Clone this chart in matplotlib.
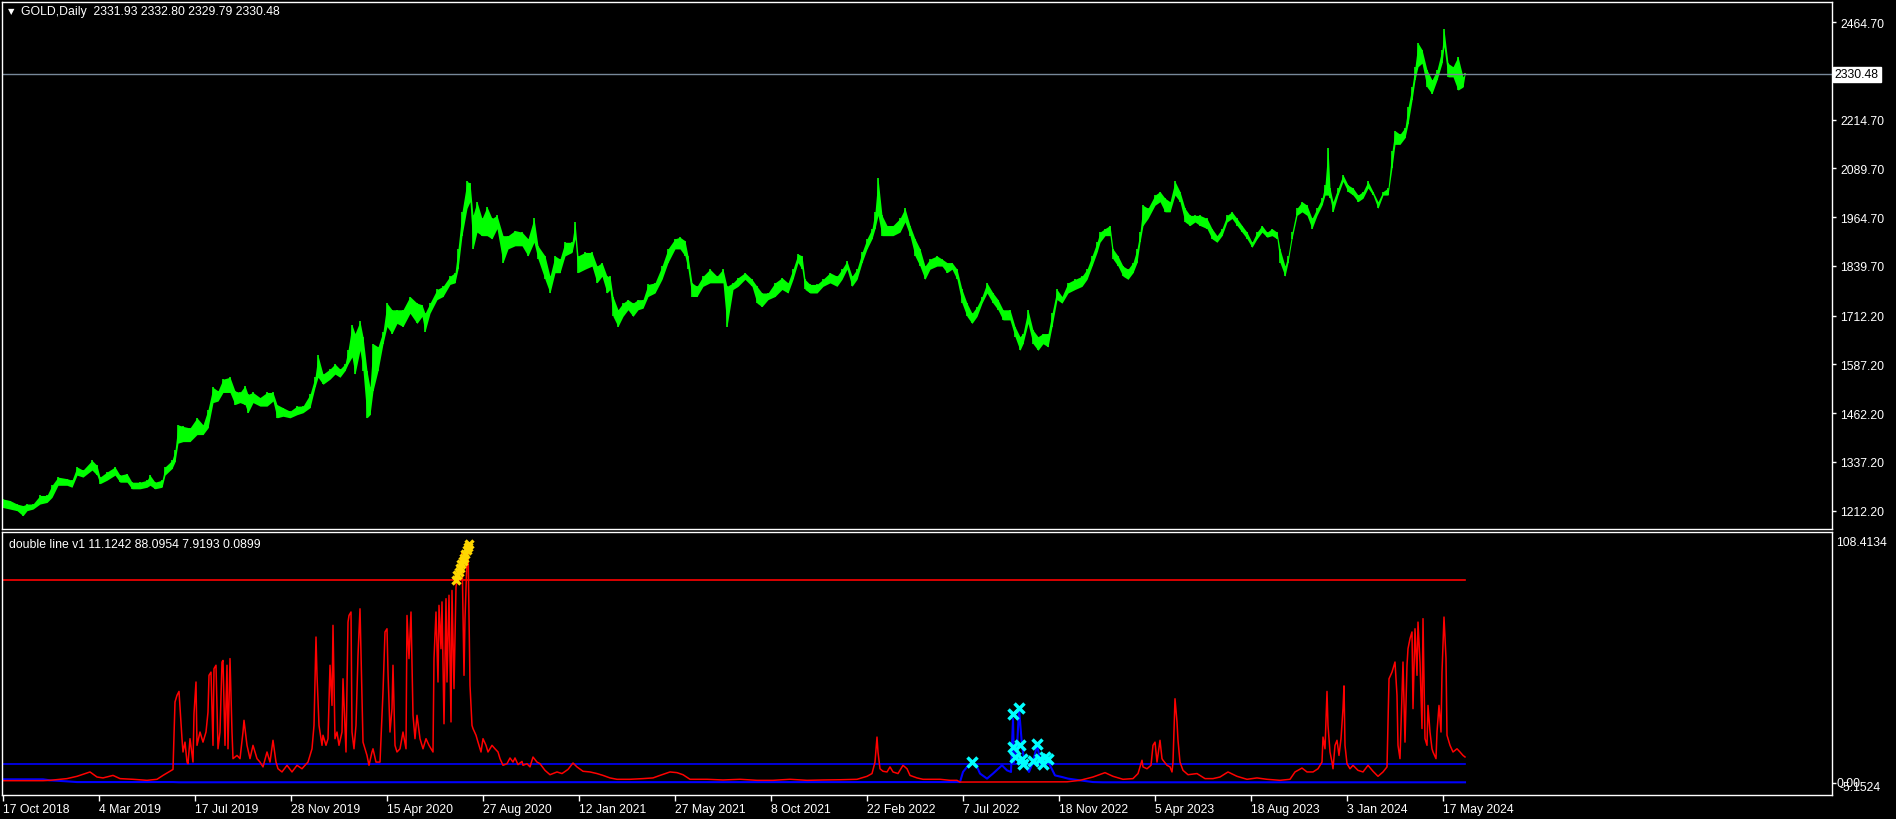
import matplotlib
matplotlib.use("Agg")
import matplotlib.pyplot as plt
import numpy as np

plt.rcParams['font.family'] = ['Liberation Sans', 'DejaVu Sans']

# ---- price panel (GOLD, Daily) : bar index, high, low ----
price_bar = [0, 7, 14, 20, 24, 30, 37, 44, 49, 55, 64, 69, 74, 80, 89, 94, 97, 104, 112, 117,
             124, 129, 137, 144, 147, 152, 159, 162, 169, 172, 175, 180, 187, 194, 200, 205, 210, 215, 220, 227,
             232, 237, 242, 245, 250, 257, 264, 270, 274, 280, 287, 294, 300, 307, 312, 315, 320, 327, 332, 337,
             342, 345, 349, 352, 357, 360, 364, 367, 370, 375, 380, 384, 389, 394, 400, 407, 414, 419, 422, 427,
             434, 440, 447, 452, 455, 459, 464, 467, 470, 474, 479, 484, 489, 494, 500, 505, 512, 519, 525, 531,
             535, 542, 547, 552, 557, 562, 569, 572, 575, 582, 589, 594, 599, 604, 607, 610, 615, 620, 625, 630,
             635, 640, 645, 652, 659, 665, 672, 677, 682, 685, 689, 694, 700, 707, 714, 720, 724, 730, 735, 742,
             749, 754, 759, 765, 772, 779, 785, 790, 795, 799, 802, 807, 814, 820, 827, 834, 839, 844, 849, 854,
             859, 864, 869, 872, 875, 879, 884, 890, 897, 902, 907, 912, 917, 922, 927, 934, 939, 944, 949, 954,
             959, 964, 969, 974, 979, 984, 990, 995, 1000, 1007, 1012, 1017, 1020, 1025, 1030, 1035, 1040, 1045, 1049, 1054,
             1059, 1065, 1072, 1079, 1084, 1089, 1094, 1097, 1102, 1107, 1110, 1115, 1120, 1125, 1130, 1134, 1137, 1140, 1145, 1152,
             1157, 1162, 1167, 1172, 1177, 1182, 1187, 1192, 1197, 1204, 1209, 1214, 1219, 1224, 1229, 1234, 1239, 1244, 1249, 1254,
             1259, 1264, 1269, 1274, 1277, 1282, 1285, 1289, 1294, 1299, 1304, 1309, 1314, 1319, 1322, 1325, 1327, 1330, 1335, 1340,
             1345, 1350, 1355, 1360, 1365, 1370, 1375, 1380, 1385, 1389, 1392, 1397, 1402, 1405, 1409, 1412, 1415, 1419, 1424, 1429,
             1434, 1439, 1441, 1445, 1450, 1455, 1460, 1462]
price_hi = [1242, 1238, 1229, 1225, 1229, 1229, 1251, 1251, 1277, 1298, 1294, 1290, 1324, 1316, 1341, 1328, 1298, 1311, 1324, 1303,
            1307, 1285, 1285, 1290, 1303, 1285, 1290, 1324, 1341, 1367, 1432, 1428, 1424, 1450, 1432, 1471, 1528, 1519, 1549, 1554,
            1519, 1515, 1532, 1510, 1515, 1502, 1515, 1515, 1484, 1476, 1467, 1480, 1480, 1510, 1554, 1610, 1562, 1575, 1588, 1575,
            1588, 1623, 1688, 1666, 1697, 1658, 1571, 1528, 1640, 1632, 1671, 1744, 1727, 1727, 1727, 1761, 1744, 1740, 1718, 1744,
            1779, 1787, 1813, 1822, 1883, 1978, 2056, 2052, 1969, 2004, 1961, 1991, 1961, 1969, 1917, 1917, 1930, 1926, 1909, 1961,
            1891, 1865, 1813, 1865, 1857, 1900, 1900, 1952, 1865, 1874, 1874, 1839, 1848, 1813, 1813, 1761, 1727, 1744, 1753, 1744,
            1753, 1753, 1792, 1796, 1839, 1883, 1909, 1913, 1904, 1865, 1796, 1787, 1813, 1831, 1813, 1831, 1787, 1796, 1809, 1822,
            1805, 1787, 1770, 1770, 1796, 1809, 1796, 1831, 1870, 1865, 1805, 1792, 1792, 1805, 1822, 1813, 1831, 1852, 1813, 1831,
            1874, 1909, 1935, 1978, 2065, 1969, 1943, 1943, 1961, 1987, 1943, 1909, 1883, 1839, 1857, 1865, 1857, 1848, 1848, 1831,
            1779, 1744, 1718, 1735, 1761, 1796, 1770, 1753, 1727, 1727, 1684, 1658, 1666, 1727, 1675, 1658, 1666, 1666, 1718, 1779,
            1761, 1796, 1805, 1813, 1831, 1865, 1900, 1926, 1935, 1943, 1883, 1865, 1839, 1831, 1848, 1883, 1926, 1995, 1987, 2021,
            2030, 2013, 2004, 2056, 2030, 1987, 1969, 1969, 1969, 1961, 1935, 1917, 1935, 1969, 1978, 1961, 1943, 1926, 1900, 1926,
            1943, 1926, 1935, 1926, 1883, 1839, 1865, 1926, 1987, 2004, 1995, 1961, 1987, 2013, 2047, 2143, 2039, 2004, 2039, 2073,
            2047, 2039, 2021, 2030, 2056, 2030, 2004, 2030, 2039, 2134, 2186, 2177, 2194, 2246, 2298, 2350, 2411, 2394, 2342, 2316,
            2342, 2394, 2446, 2359, 2350, 2376, 2324, 2333]
price_lo = [1220, 1216, 1212, 1199, 1212, 1216, 1229, 1233, 1246, 1277, 1277, 1272, 1303, 1298, 1316, 1303, 1281, 1290, 1303, 1285,
            1285, 1268, 1268, 1272, 1277, 1268, 1272, 1303, 1320, 1337, 1385, 1389, 1389, 1407, 1407, 1424, 1489, 1493, 1515, 1515,
            1484, 1489, 1484, 1463, 1489, 1480, 1480, 1493, 1450, 1454, 1450, 1458, 1463, 1476, 1528, 1554, 1536, 1549, 1562, 1554,
            1571, 1588, 1606, 1562, 1623, 1571, 1450, 1458, 1519, 1571, 1640, 1684, 1666, 1692, 1684, 1718, 1692, 1710, 1671, 1718,
            1753, 1761, 1792, 1796, 1831, 1917, 1987, 2004, 1883, 1926, 1917, 1917, 1909, 1935, 1848, 1883, 1891, 1891, 1865, 1900,
            1857, 1805, 1770, 1822, 1822, 1865, 1874, 1909, 1822, 1831, 1839, 1796, 1813, 1770, 1779, 1710, 1684, 1710, 1727, 1710,
            1727, 1731, 1761, 1770, 1805, 1848, 1883, 1883, 1865, 1831, 1761, 1761, 1787, 1796, 1796, 1796, 1684, 1779, 1787, 1805,
            1787, 1744, 1735, 1753, 1761, 1779, 1770, 1805, 1848, 1831, 1779, 1770, 1770, 1787, 1796, 1787, 1805, 1831, 1787, 1805,
            1848, 1883, 1909, 1935, 1969, 1917, 1917, 1917, 1926, 1952, 1917, 1865, 1839, 1805, 1831, 1839, 1839, 1822, 1831, 1805,
            1744, 1710, 1692, 1710, 1744, 1770, 1744, 1727, 1701, 1701, 1658, 1623, 1640, 1692, 1640, 1623, 1640, 1632, 1684, 1753,
            1744, 1770, 1779, 1787, 1805, 1839, 1874, 1900, 1917, 1917, 1857, 1839, 1813, 1805, 1822, 1848, 1900, 1943, 1961, 1995,
            2004, 1978, 1978, 2021, 2004, 1952, 1943, 1952, 1943, 1935, 1909, 1900, 1917, 1952, 1961, 1943, 1926, 1909, 1887, 1909,
            1926, 1913, 1917, 1909, 1848, 1813, 1848, 1909, 1969, 1978, 1969, 1935, 1969, 1995, 2021, 2021, 2013, 1978, 2021, 2056,
            2030, 2021, 2004, 2013, 2039, 2021, 1987, 2021, 2021, 2091, 2151, 2151, 2168, 2203, 2264, 2316, 2350, 2359, 2298, 2281,
            2316, 2359, 2402, 2324, 2324, 2290, 2298, 2330]

price_ticks = [2464.70, 2214.70, 2089.70, 1964.70, 1839.70, 1712.20, 1587.20, 1462.20, 1337.20, 1212.20]
last_ohlc = [2331.93, 2332.80, 2329.79, 2330.48]

# ---- indicator panel "double line v1" ----
red_bar = [0, 17, 40, 47, 64, 74, 87, 94, 100, 110, 117, 130, 144, 154, 160, 167, 170, 172, 174, 176,
           179, 180, 182, 184, 185, 187, 190, 191, 193, 194, 197, 200, 203, 205, 206, 208, 210, 211, 213, 215,
           217, 219, 220, 222, 224, 225, 227, 229, 230, 234, 237, 240, 241, 244, 247, 250, 254, 257, 260, 264,
           267, 270, 273, 275, 279, 284, 289, 294, 299, 302, 305, 309, 311, 313, 314, 316, 319, 320, 323, 325,
           327, 329, 330, 332, 334, 336, 339, 340, 343, 345, 346, 348, 349, 351, 353, 355, 357, 359, 360, 364,
           366, 369, 370, 373, 377, 378, 380, 382, 384, 385, 387, 389, 390, 392, 394, 397, 400, 403, 404, 406,
           408, 410, 412, 414, 417, 420, 423, 426, 430, 431, 433, 435, 436, 438, 439, 441, 443, 444, 446, 448,
           449, 451, 453, 454, 457, 459, 461, 462, 464, 465, 467, 469, 470, 473, 475, 478, 480, 483, 485, 489,
           492, 495, 497, 500, 504, 507, 510, 512, 515, 519, 520, 524, 527, 530, 534, 537, 542, 547, 554, 559,
           565, 570, 574, 580, 587, 594, 600, 607, 614, 627, 640, 650, 657, 667, 674, 680, 687, 704, 720, 737,
           754, 770, 787, 804, 820, 837, 854, 864, 869, 872, 874, 875, 877, 880, 884, 887, 890, 895, 900, 904,
           907, 914, 920, 937, 947, 954, 957, 1064, 1077, 1090, 1102, 1110, 1120, 1130, 1135, 1139, 1140, 1144, 1148, 1150,
           1152, 1154, 1157, 1159, 1160, 1164, 1167, 1169, 1170, 1172, 1174, 1175, 1177, 1180, 1185, 1194, 1202, 1210, 1217, 1225,
           1234, 1244, 1254, 1264, 1277, 1287, 1292, 1299, 1304, 1310, 1315, 1319, 1320, 1322, 1324, 1325, 1327, 1329, 1330, 1332,
           1334, 1336, 1338, 1340, 1341, 1342, 1344, 1347, 1350, 1355, 1360, 1365, 1370, 1375, 1380, 1384, 1385, 1386, 1389, 1392,
           1394, 1395, 1397, 1399, 1400, 1402, 1404, 1405, 1407, 1409, 1410, 1412, 1414, 1415, 1417, 1419, 1420, 1422, 1424, 1425,
           1427, 1429, 1430, 1433, 1434, 1436, 1438, 1439, 1441, 1443, 1444, 1447, 1450, 1454, 1457, 1460, 1462]
red_val = [0.8, 0.8, 0.8, 0.95, 1.7, 2.7, 4.6, 2.4, 2.0, 3.1, 1.7, 1.4, 0.95, 1.4, 3.1, 4.9, 5.7, 35.1, 38.0, 39.7,
           19.1, 13.3, 17.6, 8.9, 8.2, 19.1, 8.9, 30.0, 43.8, 16.2, 22.0, 17.6, 22.0, 30.7, 46.7, 48.1, 16.2, 49.6, 51.1, 14.7,
           22.0, 52.5, 53.2, 16.2, 51.1, 14.7, 54.0, 22.0, 10.4, 11.8, 10.4, 22.0, 27.1, 16.2, 10.4, 16.2, 10.4, 8.9, 6.8, 13.3,
           8.9, 18.4, 8.9, 6.0, 4.6, 7.5, 4.6, 7.5, 6.0, 7.5, 8.9, 14.7, 24.9, 63.4, 46.7, 24.9, 16.2, 20.6, 16.2, 19.1,
           51.1, 33.6, 68.5, 19.1, 22.0, 16.2, 22.0, 45.2, 13.3, 69.9, 72.8, 74.3, 22.0, 14.7, 24.9, 55.4, 75.7, 36.5, 17.6, 11.8,
           7.5, 13.3, 14.7, 8.9, 8.9, 19.1, 39.4, 65.6, 67.0, 48.1, 22.0, 32.2, 51.1, 16.2, 13.3, 14.7, 22.0, 14.7, 72.8, 54.0,
           74.3, 29.3, 19.1, 29.3, 19.1, 14.7, 19.1, 16.2, 13.3, 54.0, 74.3, 43.8, 77.2, 58.3, 78.7, 25.6, 80.1, 43.8, 81.6, 26.4,
           83.7, 40.9, 85.2, 88.1, 94.6, 100.4, 46.7, 71.4, 97.5, 103.4, 42.3, 24.9, 23.5, 20.6, 17.6, 13.3, 19.1, 16.2, 13.3, 16.2,
           14.7, 13.3, 10.4, 7.5, 8.2, 10.7, 8.9, 10.7, 7.8, 9.2, 7.5, 8.2, 6.8, 11.1, 8.9, 8.2, 5.3, 3.4, 4.6, 3.9,
           5.7, 8.5, 6.8, 4.9, 4.6, 3.9, 3.1, 2.0, 1.4, 1.4, 1.7, 2.0, 3.1, 4.6, 4.3, 3.4, 1.4, 1.4, 1.1, 1.4,
           0.95, 0.95, 1.4, 0.95, 1.1, 1.2, 1.4, 2.7, 3.9, 8.9, 19.8, 13.3, 6.0, 4.9, 4.6, 6.8, 4.6, 3.9, 7.5, 6.0,
           3.1, 2.0, 1.4, 1.4, 0.95, 0.95, 0.2, 0.3, 0.95, 2.4, 4.3, 2.7, 1.4, 1.7, 3.9, 9.7, 6.8, 6.0, 7.5, 16.2,
           17.6, 8.9, 18.4, 10.4, 9.7, 7.5, 6.8, 4.6, 8.9, 36.5, 26.4, 18.4, 8.9, 5.3, 3.4, 3.9, 1.7, 1.7, 2.4, 4.6,
           2.7, 1.4, 2.0, 1.4, 0.95, 1.4, 4.6, 6.3, 4.6, 4.6, 6.0, 8.9, 19.8, 14.7, 39.7, 24.9, 13.3, 8.9, 6.0, 16.2,
           18.4, 11.8, 19.1, 32.2, 42.1, 16.2, 8.2, 6.0, 7.5, 5.3, 4.6, 7.5, 4.9, 2.7, 4.6, 6.8, 25.6, 45.2, 48.1, 52.5,
           38.0, 16.2, 10.4, 38.7, 52.5, 17.6, 51.1, 58.3, 62.7, 65.6, 32.2, 67.0, 46.7, 69.9, 52.5, 23.5, 71.4, 19.1, 16.2, 33.6,
           22.0, 14.7, 13.3, 10.4, 22.0, 33.6, 22.0, 48.1, 72.1, 54.0, 20.6, 16.2, 13.3, 14.7, 13.3, 11.8, 11.1242]

blue_bar = [0, 40, 47, 64, 74, 170, 176, 957, 960, 964, 967, 970, 974, 977, 984, 990, 999, 1004, 1008, 1010,
            1011, 1014, 1016, 1019, 1022, 1026, 1030, 1034, 1037, 1042, 1047, 1052, 1059, 1065, 1077, 1090, 1100, 1462]
blue_val = [1.4, 1.4, 0.95, 0.5, 0.2, 0.2, 0.1, 0.2, 4.6, 6.8, 7.5, 8.9, 6.8, 3.9, 1.7, 3.9, 7.5, 5.3, 4.6, 27.8,
            8.9, 14.7, 32.2, 16.2, 7.5, 4.6, 8.9, 16.2, 10.4, 11.8, 7.5, 3.1, 2.4, 1.7, 0.95, 0.2, 0.1, 0.0899]

red_level = 88.0954
blue_level = 7.9193

yellow_bar = [453, 454, 456, 457, 458, 460, 461, 462, 464, 465, 466]
yellow_val = [88.1, 90.3, 91.7, 93.5, 95.2, 96.4, 97.8, 99.6, 101.2, 102.6, 104.1]

cyan_bar = [969, 1010, 1016, 1010, 1017, 1012, 1019, 1020, 1034, 1030, 1037, 1042, 1045, 1040]
cyan_val = [8.8, 29.8, 32.3, 15.3, 16.2, 11.0, 10.2, 8.1, 16.8, 9.4, 10.1, 11.1, 10.1, 7.9]

date_ticks = [0, 96, 192, 288, 384, 480, 576, 672, 768, 864, 960, 1056, 1152, 1248, 1344, 1440]
date_labels = ['17 Oct 2018', '4 Mar 2019', '17 Jul 2019', '28 Nov 2019', '15 Apr 2020', '27 Aug 2020',
               '12 Jan 2021', '27 May 2021', '8 Oct 2021', '22 Feb 2022', '7 Jul 2022', '18 Nov 2022',
               '5 Apr 2023', '18 Aug 2023', '3 Jan 2024', '17 May 2024']

W, H = 1896, 820
fig = plt.figure(figsize=(W / 100, H / 100), dpi=100, facecolor='black')
ax1 = fig.add_axes([2 / W, (H - 530) / H, 1830 / W, 527 / H])
ax2 = fig.add_axes([2 / W, (H - 796) / H, 1830 / W, 263 / H])

for ax in (ax1, ax2):
    ax.set_facecolor('black')
    for s in ax.spines.values():
        s.set_color('white')
        s.set_linewidth(1)
    ax.set_xlim(-1, 1829)
    ax.yaxis.tick_right()
    ax.tick_params(axis='y', colors='white', length=3, width=1, labelsize=8.8, pad=3)

# price: daily bars drawn as a dense high/low band
pb = np.array(price_bar)
ax1.fill_between(pb, price_lo, price_hi, color='#00ff00', lw=0)
ax1.vlines(pb, price_lo, price_hi, color='#00ff00', lw=1.2)
ax1.axhline(last_ohlc[3], color='#778899', lw=1)
ax1.set_ylim(1165, 2516)
ax1.set_yticks(price_ticks)
ax1.set_yticklabels(['%.2f' % v for v in price_ticks])
ax1.set_xticks([])
ax1.text(1.0015, last_ohlc[3], '%.2f' % last_ohlc[3], transform=ax1.get_yaxis_transform(),
         ha='left', va='center', fontsize=8.8, color='black',
         bbox=dict(facecolor='white', edgecolor='white', boxstyle='square,pad=0.15'))
fig.text(8 / W, 1 - 12 / H, '\u25bc', color='white', fontsize=6, va='center', family='DejaVu Sans')
fig.text(21 / W, 1 - 12 / H, 'GOLD,Daily  ' + ' '.join('%.2f' % v for v in last_ohlc),
         color='white', fontsize=8.8, va='center')

# indicator
ax2.plot([0, red_bar[-1]], [red_level, red_level], color='red', lw=1.2)
ax2.plot([0, red_bar[-1]], [blue_level, blue_level], color='blue', lw=1.2)
ax2.plot(blue_bar, blue_val, color='blue', lw=1.5)
ax2.plot(red_bar, red_val, color='red', lw=1.1)
ax2.plot(yellow_bar, yellow_val, ls='none', marker='x', ms=6, mew=2.4, color='#ffd700')
ax2.plot(cyan_bar, cyan_val, ls='none', marker='x', ms=6.5, mew=2.5, color='#00ffff')
ax2.set_ylim(-5.44, 109.16)
ax2.set_yticks([0])
ax2.set_yticklabels([''])
ax2.set_xticks(date_ticks)
ax2.set_xticklabels(date_labels, ha='left')
ax2.tick_params(axis='x', colors='white', length=4, width=1, labelsize=8.8, pad=2)
ax2.text(1.002, 0.962, '108.4134', transform=ax2.transAxes, color='white', fontsize=8.8, va='center', ha='left')
ax2.text(1.0025, 0.045, '0.00', transform=ax2.transAxes, color='white', fontsize=8.8, va='center', ha='left')
ax2.text(1.004, 0.03, '-5.1524', transform=ax2.transAxes, color='white', fontsize=8.8, va='center', ha='left')
ax2.text(7 / 1830, 0.955, 'double line v1 11.1242 88.0954 7.9193 0.0899', transform=ax2.transAxes,
         color='white', fontsize=8.8, va='center', ha='left')

fig.savefig('out.png', dpi=100, facecolor='black')
